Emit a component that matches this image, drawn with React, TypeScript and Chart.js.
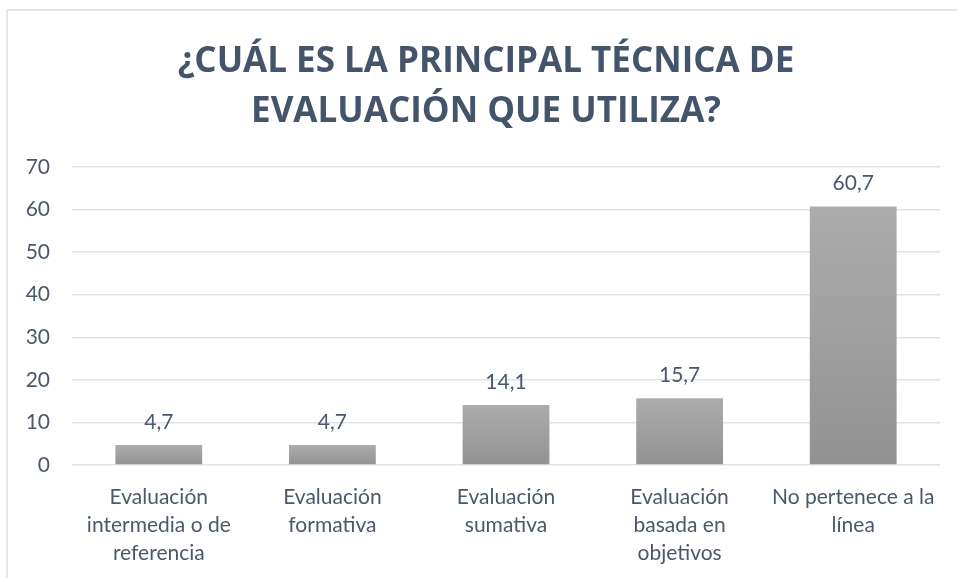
import React, { useEffect, useRef } from "react";
import { Chart, registerables } from "chart.js";

Chart.register(...registerables);

const titleLines = ["¿CUÁL ES LA PRINCIPAL TÉCNICA DE", "EVALUACIÓN QUE UTILIZA?"];
const categories: string[][] = [
  ["Evaluación", "intermedia o de", "referencia"],
  ["Evaluación", "formativa"],
  ["Evaluación", "sumativa"],
  ["Evaluación", "basada en", "objetivos"],
  ["No pertenece a la", "línea"],
];
const values = [4.7, 4.7, 14.1, 15.7, 60.7];
const yMin = 0;
const yMax = 70;
const yStep = 10;

const TITLE_COLOR = "#44546a";
const TEXT_COLOR = "#4a586b";
const FONT = "Lato, 'Open Sans', sans-serif";

const framePlugin = {
  id: "frame",
  beforeDraw(chart: any) {
    const ctx = chart.ctx;
    ctx.save();
    ctx.fillStyle = "#ffffff";
    ctx.fillRect(0, 0, chart.width, chart.height);
    ctx.strokeStyle = "#d9dee5";
    ctx.lineWidth = 1.5;
    ctx.strokeRect(7, 10, chart.width + 20, chart.height + 20);
    ctx.restore();
  },
};

const titlePlugin = {
  id: "customTitle",
  afterDraw(chart: any) {
    const ctx = chart.ctx;
    ctx.save();
    ctx.fillStyle = TITLE_COLOR;
    ctx.font = "bold 35px 'Open Sans', sans-serif";
    ctx.textAlign = "center";
    ctx.textBaseline = "alphabetic";
    const cx = 486;
    ctx.fillText(titleLines[0], cx, 72);
    ctx.fillText(titleLines[1], cx, 122);
    ctx.restore();
  },
};

const labelPlugin = {
  id: "dataLabels",
  afterDatasetsDraw(chart: any) {
    const ctx = chart.ctx;
    const meta = chart.getDatasetMeta(0);
    ctx.save();
    ctx.fillStyle = TEXT_COLOR;
    ctx.font = `21px ${FONT}`;
    ctx.textAlign = "center";
    ctx.textBaseline = "middle";
    meta.data.forEach((bar: any, i: number) => {
      const txt = values[i].toFixed(1).replace(".", ",");
      ctx.fillText(txt, bar.x, bar.y - 23);
    });
    ctx.restore();
  },
};

export default function App() {
  const ref = useRef<HTMLCanvasElement | null>(null);
  useEffect(() => {
    if (!ref.current) return;
    const chart = new Chart(ref.current, {
      type: "bar",
      data: {
        labels: categories,
        datasets: [
          {
            data: values,
            barPercentage: 0.5,
            categoryPercentage: 1,
            backgroundColor: (context: any) => {
              const ch = context.chart;
              const y = ch.scales?.y;
              if (!y || context.raw === undefined) return "#a0a0a0";
              const top = y.getPixelForValue(context.raw);
              const bottom = y.getPixelForValue(0);
              if (!isFinite(top) || !isFinite(bottom) || top === bottom) return "#a0a0a0";
              const g = ch.ctx.createLinearGradient(0, top, 0, bottom);
              g.addColorStop(0, "#acacac");
              g.addColorStop(1, "#929292");
              return g;
            },
            borderWidth: 0,
          },
        ],
      },
      options: {
        responsive: false,
        animation: false,
        maintainAspectRatio: false,
        layout: { padding: { top: 167, right: 17, bottom: 0, left: 0 } },
        plugins: {
          legend: { display: false },
          title: { display: false },
          tooltip: { enabled: false },
        },
        scales: {
          x: {
            afterFit: (scale: any) => {
              scale.height = 113;
            },
            grid: { display: false, drawTicks: false },
            border: { display: false },
            ticks: {
              color: TEXT_COLOR,
              font: { family: FONT, size: 21, lineHeight: 1.33 },
              padding: 18,
              maxRotation: 0,
              autoSkip: false,
            },
          },
          y: {
            min: yMin,
            max: yMax,
            afterFit: (scale: any) => {
              scale.width = 72;
            },
            grid: { color: "#dfe3e9", lineWidth: 1.5, drawTicks: false },
            border: { display: false },
            ticks: {
              stepSize: yStep,
              color: TEXT_COLOR,
              font: { family: FONT, size: 21 },
              padding: 22,
            },
          },
        },
      },
      plugins: [framePlugin, titlePlugin, labelPlugin],
    });
    return () => chart.destroy();
  }, []);
  return (
    <div style={{ position: "fixed", left: 0, top: 0, width: 957, height: 578 }}>
      <canvas ref={ref} width={957} height={578} style={{ display: "block" }} />
    </div>
  );
}
